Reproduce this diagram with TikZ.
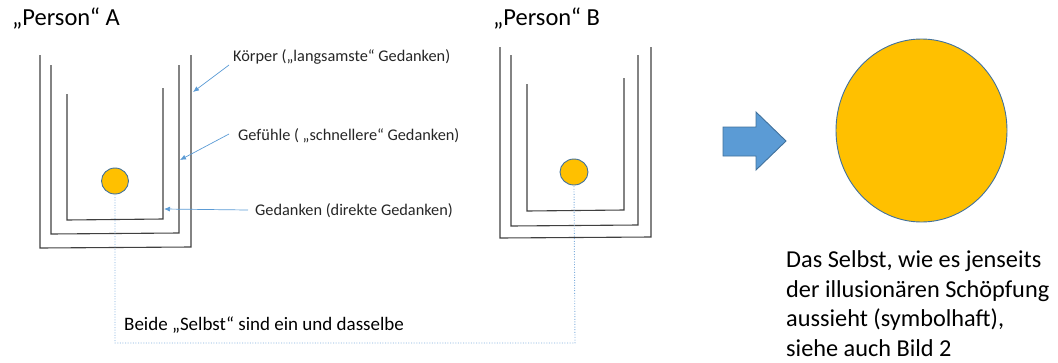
\documentclass[tikz,border=0pt]{standalone}
\usepackage{fontspec}
\setmainfont{Carlito}
\usetikzlibrary{shapes.geometric,arrows.meta}
\definecolor{selbst}{HTML}{FFC000}
\definecolor{rim}{HTML}{41719C}
\definecolor{pointer}{HTML}{5B9BD5}
\definecolor{dots}{HTML}{7FAEDC}
\definecolor{wall}{HTML}{404040}
\tikzset{
  ushape/.style={draw=wall, line width=1.1pt},
  selbstdot/.style={ellipse, draw=rim, line width=0.9pt, fill=selbst, inner sep=0pt},
  pointerline/.style={draw=pointer, line width=0.7pt, -{Latex[length=6pt,width=5pt]}},
  layerlabel/.style={anchor=west, inner sep=0pt, font=\fontsize{16.3}{19}\selectfont, text=black!85},
  titlelabel/.style={anchor=west, inner sep=0pt, font=\fontsize{24.5}{29}\selectfont},
  linkline/.style={draw=dots, line width=0.9pt, dash pattern=on 1pt off 1.6pt},
}
\begin{document}
\begin{tikzpicture}[x=1pt,y=-1pt]
\useasboundingbox (0,0) rectangle (1058,362);
% titles
\node[titlelabel] (tA) at (12,18) {„Person“ A};
\node[titlelabel] (tB) at (493,18) {„Person“ B};
% Person A cups
\draw[ushape] (40,55) -- (40,248) -- (191,247) -- (191,55);
\draw[ushape] (51,65) -- (51,234) -- (179,233) -- (179,65);
\draw[ushape] (67,94) -- (67,220) -- (163,219) -- (163,88);
% Person B cups
\draw[ushape] (500,47) -- (500,238) -- (651,237) -- (651,47);
\draw[ushape] (511,55) -- (511,226) -- (638,225) -- (638,55);
\draw[ushape] (527,84) -- (527,211) -- (624,210) -- (624,78);
% selves
\node[selbstdot, minimum width=27pt, minimum height=26pt] (sA) at (115,181) {};
\node[selbstdot, minimum width=28pt, minimum height=26pt] (sB) at (574,172) {};
% layer labels
\node[layerlabel] (lK) at (233,57) {Körper („langsamste“ Gedanken)};
\node[layerlabel] (lG) at (238,136) {Gefühle ( „schnellere“ Gedanken)};
\node[layerlabel] (lD) at (255,211) {Gedanken (direkte Gedanken)};
\coordinate (cK) at (193,92);
\coordinate (cG) at (180,160);
\coordinate (cD) at (164,209);
\draw[pointerline] (229,65) -- (cK);
\draw[pointerline] (229,134) -- (cG);
\draw[pointerline] (lD.west) ++(-7,-1) -- (cD);
% link
\coordinate (bl) at (115,343);
\coordinate (br) at (575,343);
\draw[linkline] (sA.south) -- (bl) -- (br) -- (sB.south);
\node[anchor=west, inner sep=0pt, font=\fontsize{19}{23}\selectfont] (beide) at (124,325) {Beide „Selbst“ sind ein und dasselbe};
% block arrow
\draw[draw=rim, line width=0.9pt, fill=pointer] (723,127) -- (756,127) -- (756,112) -- (786,141) -- (756,170) -- (756,156) -- (723,156) -- cycle;
% big self
\node[selbstdot, minimum width=171pt, minimum height=183pt] (big) at (921.5,130.5) {};
\node[anchor=north west, inner sep=0pt, align=left, font=\fontsize{24.3}{29.7}\selectfont] (desc) at (786,250.5) {Das Selbst, wie es jenseits\\der illusionären Schöpfung\\aussieht (symbolhaft),\\siehe auch Bild 2};
\end{tikzpicture}
\end{document}
